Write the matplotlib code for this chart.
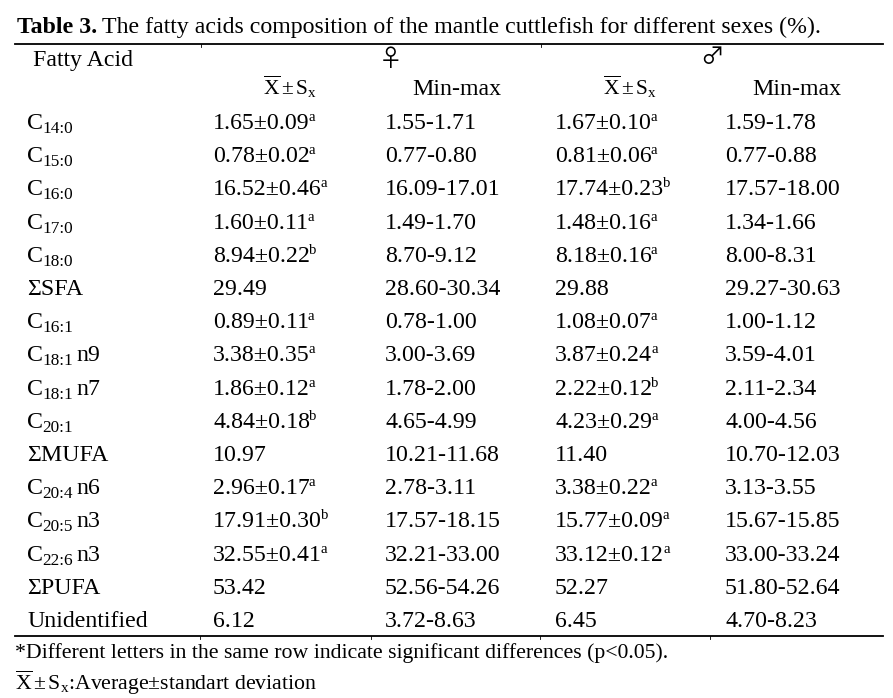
import matplotlib.pyplot as plt

plt.rcParams["font.family"] = ["Liberation Serif", "DejaVu Sans"]
plt.rcParams["mathtext.fontset"] = "custom"
plt.rcParams["mathtext.rm"] = "Liberation Serif"
plt.rcParams["mathtext.it"] = "Liberation Serif:italic"

# table data: (prefix, subscript, suffix) for each fatty acid
acid_base = ["C", "C", "C", "C", "C", "ΣSFA", "C", "C", "C", "C", "ΣMUFA", "C", "C", "C", "ΣPUFA", "Unidentified"]
acid_sub = ["14:0", "15:0", "16:0", "17:0", "18:0", "", "16:1", "18:1", "18:1", "20:1", "", "20:4", "20:5", "22:6", "", ""]
acid_tail = ["", "", "", "", "", "", "", "n9", "n7", "", "", "n6", "n3", "n3", "", ""]

f_mean = [1.65, 0.78, 16.52, 1.60, 8.94, 29.49, 0.89, 3.38, 1.86, 4.84, 10.97, 2.96, 17.91, 32.55, 53.42, 6.12]
f_sd = [0.09, 0.02, 0.46, 0.11, 0.22, None, 0.11, 0.35, 0.12, 0.18, None, 0.17, 0.30, 0.41, None, None]
f_sig = ["a", "a", "a", "a", "b", "", "a", "a", "a", "b", "", "a", "b", "a", "", ""]
f_min = [1.55, 0.77, 16.09, 1.49, 8.70, 28.60, 0.78, 3.00, 1.78, 4.65, 10.21, 2.78, 17.57, 32.21, 52.56, 3.72]
f_max = [1.71, 0.80, 17.01, 1.70, 9.12, 30.34, 1.00, 3.69, 2.00, 4.99, 11.68, 3.11, 18.15, 33.00, 54.26, 8.63]

m_mean = [1.67, 0.81, 17.74, 1.48, 8.18, 29.88, 1.08, 3.87, 2.22, 4.23, 11.40, 3.38, 15.77, 33.12, 52.27, 6.45]
m_sd = [0.10, 0.06, 0.23, 0.16, 0.16, None, 0.07, 0.24, 0.12, 0.29, None, 0.22, 0.09, 0.12, None, None]
m_sig = ["a", "a", "b", "a", "a", "", "a", "a", "b", "a", "", "a", "a", "a", "", ""]
m_min = [1.59, 0.77, 17.57, 1.34, 8.00, 29.27, 1.00, 3.59, 2.11, 4.00, 10.70, 3.13, 15.67, 33.00, 51.80, 4.70]
m_max = [1.78, 0.88, 18.00, 1.66, 8.31, 30.63, 1.12, 4.01, 2.34, 4.56, 12.03, 3.55, 15.85, 33.24, 52.64, 8.23]


fig = plt.figure(figsize=(8.93, 6.98), dpi=100)
ax = fig.add_axes([0, 0, 1, 1])
ax.set_xlim(0, 893)
ax.set_ylim(698, 0)
ax.axis("off")
renderer = fig.canvas.get_renderer()

fs = 17.2


def right_edge(t):
    bb = t.get_window_extent(renderer).transformed(ax.transData.inverted())
    return bb.x1


def mean_cell(x, y, mean, sd, sig):
    if sd is None:
        ax.text(x, y, f"{mean:.2f}", fontsize=fs, va="baseline")
        return
    t = ax.text(x, y, f"{mean:.2f}±{sd:.2f}", fontsize=fs, va="baseline")
    ax.text(right_edge(t) - 1, y - 8, sig, fontsize=fs * 0.62, va="baseline")


def acid_cell(x, y, base, sub, tail):
    t = ax.text(x, y, base, fontsize=fs, va="baseline")
    if sub:
        s = ax.text(right_edge(t) - 0.5, y + 4, sub, fontsize=fs * 0.72, va="baseline")
        if tail:
            ax.text(right_edge(s) + 3, y, tail, fontsize=fs, va="baseline")


# title: bold part, then the rest right after it
t = ax.text(17, 33, "Table 3.", fontsize=fs, fontweight="bold", va="baseline")
ax.text(right_edge(t) + 5, 33, "The fatty acids composition of the mantle cuttlefish for different sexes (%).",
        fontsize=fs, va="baseline")

# rules
ax.plot([15, 883], [44, 44], color="black", lw=1.3)
ax.plot([15, 883], [636, 636], color="black", lw=1.3)
for x in [201, 541]:
    ax.plot([x, x], [44, 47], color="black", lw=0.6)
for x in [200, 371, 540, 710]:
    ax.plot([x, x], [636, 639], color="black", lw=0.6)

# headers
xsym = r"$\overline{\mathregular{X}}\,$±$\,$S$_{\mathregular{x}}$"
ax.text(33, 66, "Fatty Acid", fontsize=fs, va="baseline")
ax.text(391, 59, "♀", fontsize=17, va="center", ha="center", family=["Noto Sans CJK JP", "DejaVu Sans"])
ax.text(712, 58, "♂", fontsize=17, va="center", ha="center", family=["Noto Sans CJK JP", "DejaVu Sans"])
ax.text(263, 95, xsym, fontsize=15.5, va="baseline")
ax.text(412, 95, "Min-max", fontsize=fs, va="baseline")
ax.text(603, 95, xsym, fontsize=15.5, va="baseline")
ax.text(752, 95, "Min-max", fontsize=fs, va="baseline")

# body
y0 = 129
dy = 33.2
for i in range(len(acid_base)):
    y = y0 + i * dy
    acid_cell(27, y, acid_base[i], acid_sub[i], acid_tail[i])
    mean_cell(213, y, f_mean[i], f_sd[i], f_sig[i])
    ax.text(385, y, f"{f_min[i]:.2f}-{f_max[i]:.2f}", fontsize=fs, va="baseline")
    mean_cell(555, y, m_mean[i], m_sd[i], m_sig[i])
    ax.text(725, y, f"{m_min[i]:.2f}-{m_max[i]:.2f}", fontsize=fs, va="baseline")

# footnotes
ax.text(15, 658, "*Different letters in the same row indicate significant differences (p<0.05).",
        fontsize=15.7, va="baseline")
ax.text(15, 690, xsym + ":Average±standart deviation", fontsize=15.7, va="baseline")

fig.savefig("out.png", dpi=100)
